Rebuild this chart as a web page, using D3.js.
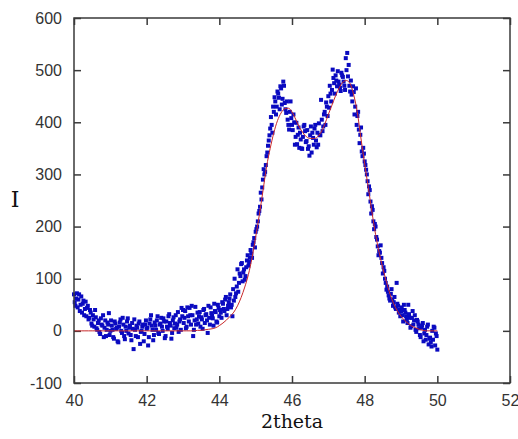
<!DOCTYPE html>
<html lang="en">
<head>
    <meta charset="UTF-8">
    <title>2theta scan with fit</title>
    <script src="https://d3js.org/d3.v7.min.js"></script>
    <style>
        body { margin: 0; background: #fff; }
        .tick-label { font-family: "Liberation Sans", Arial, sans-serif; font-size: 16px; fill: #333; }
        .axis-title { font-family: "DejaVu Serif", serif; fill: #111; }
    </style>
</head>
<body>
    <div id="chart"></div>

    <script>
        // measured points, first pass (2theta, intensity)
        const twoTheta = [
            40.00, 40.04, 40.08, 40.12, 40.16, 40.20, 40.24, 40.28, 40.32, 40.36, 40.40,
            40.44, 40.48, 40.52, 40.56, 40.60, 40.64, 40.68, 40.72, 40.76, 40.80, 40.84, 40.88, 40.92, 40.96, 41.00,
            41.04, 41.08, 41.12, 41.16, 41.20, 41.24, 41.28, 41.32, 41.36, 41.40, 41.44, 41.48, 41.52, 41.56, 41.60,
            41.64, 41.68, 41.72, 41.76, 41.80, 41.84, 41.88, 41.92, 41.96, 42.00,
            42.04, 42.08, 42.12, 42.16, 42.20, 42.24, 42.28, 42.32, 42.36, 42.40, 42.44, 42.48, 42.52, 42.56, 42.60,
            42.64, 42.68, 42.72, 42.76, 42.80, 42.84, 42.88, 42.92, 42.96, 43.00,
            43.04, 43.08, 43.12, 43.16, 43.20, 43.24, 43.28, 43.32, 43.36, 43.40, 43.44, 43.48, 43.52, 43.56, 43.60,
            43.64, 43.68, 43.72, 43.76, 43.80, 43.84, 43.88, 43.92, 43.96, 44.00,
            44.04, 44.08, 44.12, 44.16, 44.20, 44.24, 44.28, 44.32, 44.36, 44.40,
            44.44, 44.48, 44.52, 44.56, 44.60, 44.64, 44.68, 44.72, 44.76, 44.80, 44.84, 44.88, 44.92, 44.96, 45.00,
            45.04, 45.08, 45.12, 45.16, 45.20, 45.24, 45.28, 45.32, 45.36, 45.40, 45.44, 45.48, 45.52, 45.56, 45.60,
            45.64, 45.68, 45.72, 45.76, 45.80, 45.84, 45.88, 45.92, 45.96, 46.00,
            46.04, 46.08, 46.12, 46.16, 46.20, 46.24, 46.28, 46.32, 46.36, 46.40, 46.44, 46.48, 46.52, 46.56, 46.60,
            46.64, 46.68, 46.72, 46.76, 46.80, 46.84, 46.88, 46.92, 46.96, 47.00,
            47.04, 47.08, 47.12, 47.16, 47.20, 47.24, 47.28, 47.32, 47.36, 47.40, 47.44, 47.48, 47.52, 47.56, 47.60,
            47.64, 47.68, 47.72, 47.76, 47.80, 47.84, 47.88, 47.92, 47.96, 48.00,
            48.04, 48.08, 48.12, 48.16, 48.20, 48.24, 48.28, 48.32, 48.36, 48.40, 48.44, 48.48, 48.52, 48.56, 48.60,
            48.64, 48.68, 48.72, 48.76, 48.80, 48.84, 48.88, 48.92, 48.96, 49.00,
            49.04, 49.08, 49.12, 49.16, 49.20, 49.24, 49.28, 49.32, 49.36, 49.40, 49.44, 49.48, 49.52, 49.56, 49.60,
            49.64, 49.68, 49.72, 49.76, 49.80, 49.84, 49.88, 49.92, 49.96, 50.00
        ];
        const intensity = [
            70, 48, 72, 60, 38, 66, 52, 30, 56, 44, 22,
            40, 14, 30, 8, 26, 2, 20, -6, 12, 30, 6, -10, 16, 34, 0,
            10, -12, 18, 4, -20, 8, 22, -4, 12, -16, 0, 24, 6, -8, 15,
            -35, 2, 10, -12, 18, -2, 8, -20, 12, 4,
            -28, 14, 30, 2, -8, 10, 20, -4, 12, 25, 0, 18, -10, 8, 28,
            15, -15, 20, 5, 30, 12, -2, 22, 44, 40,
            25, 5, 45, 18, 30, 48, -10, 20, 12, 35, 28, 8, 22, 40, 15,
            32, -4, 25, 45, 30, 10, 38, 18, 50, 28,
            35, 55, 42, 60, 30, 48, 62, 45, 28, 58,
            65, 85, 75, 110, 128, 95, 118, 105, 135, 125, 140, 148, 165, 178, 190,
            200, 225, 238, 252, 290, 300, 318, 342, 365, 388, 395, 430, 448, 415, 459,
            447, 469, 434, 478, 437, 418, 405, 386, 440, 395,
            415, 357, 399, 376, 351, 367, 349, 392, 383, 364, 349, 336, 392, 380, 357,
            395, 352, 357, 376, 443, 383, 415, 395, 430, 450,
            470, 440, 501, 475, 490, 469, 478, 466, 495, 487, 470, 523, 533, 510, 459,
            453, 469, 415, 465, 412, 386, 376, 344, 351, 325,
            309, 287, 277, 248, 239, 210, 205, 180, 162, 153, 164, 130, 122, 100, 79,
            75, 62, 71, 60, 55, 45, 92, 48, 40, 38,
            30, 50, 35, 22, 50, 25, 9, 38, 20, 2, 21, 12, -8, 6, 15,
            -5, -17, 8, -26, -13, -30, -17, 6, -5, -36
        ];

        // measured points, in-between steps
        const twoThetaB = [
            40.02, 40.06, 40.10, 40.14, 40.18, 40.22, 40.26, 40.30, 40.34, 40.38,
            40.42, 40.46, 40.50, 40.54, 40.58, 40.62, 40.66, 40.70, 40.74, 40.78, 40.82, 40.86, 40.90, 40.94, 40.98,
            41.02, 41.06, 41.10, 41.14, 41.18, 41.22, 41.26, 41.30, 41.34, 41.38, 41.42, 41.46, 41.50, 41.54, 41.58,
            41.62, 41.66, 41.70, 41.74, 41.78, 41.82, 41.86, 41.90, 41.94, 41.98,
            42.02, 42.06, 42.10, 42.14, 42.18, 42.22, 42.26, 42.30, 42.34, 42.38, 42.42, 42.46, 42.50, 42.54, 42.58,
            42.62, 42.66, 42.70, 42.74, 42.78, 42.82, 42.86, 42.90, 42.94, 42.98,
            43.02, 43.06, 43.10, 43.14, 43.18, 43.22, 43.26, 43.30, 43.34, 43.38, 43.42, 43.46, 43.50, 43.54, 43.58,
            43.62, 43.66, 43.70, 43.74, 43.78, 43.82, 43.86, 43.90, 43.94, 43.98,
            44.02, 44.06, 44.10, 44.14, 44.18, 44.22, 44.26, 44.30, 44.34, 44.38,
            44.42, 44.46, 44.50, 44.54, 44.58, 44.62, 44.66, 44.70, 44.74, 44.78, 44.82, 44.86, 44.90, 44.94, 44.98,
            45.02, 45.06, 45.10, 45.14, 45.18, 45.22, 45.26, 45.30, 45.34, 45.38, 45.42, 45.46, 45.50, 45.54, 45.58,
            45.62, 45.66, 45.70, 45.74, 45.78, 45.82, 45.86, 45.90, 45.94, 45.98,
            46.02, 46.06, 46.10, 46.14, 46.18, 46.22, 46.26, 46.30, 46.34, 46.38, 46.42, 46.46, 46.50, 46.54, 46.58,
            46.62, 46.66, 46.70, 46.74, 46.78, 46.82, 46.86, 46.90, 46.94, 46.98,
            47.02, 47.06, 47.10, 47.14, 47.18, 47.22, 47.26, 47.30, 47.34, 47.38, 47.42, 47.46, 47.50, 47.54, 47.58,
            47.62, 47.66, 47.70, 47.74, 47.78, 47.82, 47.86, 47.90, 47.94, 47.98,
            48.02, 48.06, 48.10, 48.14, 48.18, 48.22, 48.26, 48.30, 48.34, 48.38, 48.42, 48.46, 48.50, 48.54, 48.58,
            48.62, 48.66, 48.70, 48.74, 48.78, 48.82, 48.86, 48.90, 48.94, 48.98,
            49.02, 49.06, 49.10, 49.14, 49.18, 49.22, 49.26, 49.30, 49.34, 49.38, 49.42, 49.46, 49.50, 49.54, 49.58,
            49.62, 49.66, 49.70, 49.74, 49.78, 49.82, 49.86, 49.90, 49.94, 49.98
        ];
        const intensityB = [
            55, 62, 45, 70, 50, 35, 58, 42, 28, 48,
            25, 35, 10, 22, 40, 5, 15, -2, 24, 10, -12, 20, 2, 12, -8,
            20, 2, -15, 14, 6, -22, 16, 0, 25, -10, 8, 18, -5, 10, -18,
            4, 22, -10, 6, 14, -25, 0, 12, -6, 20,
            6, -12, 22, 10, -18, 16, 2, 28, -6, 14, 8, 24, -14, 18, 4,
            32, 10, -4, 26, 14, 6, 36, 18, 2, 28,
            15, 38, 8, 28, 44, 12, 30, 2, 46, 22, 14, 36, 26, 4, 42,
            30, 20, 48, 12, 34, 24, 52, 36, 16, 44,
            40, 25, 52, 38, 65, 42, 55, 70, 50, 80,
            100, 72, 118, 92, 105, 130, 112, 98, 122, 145, 132, 155, 140, 170, 160,
            195, 210, 230, 265, 275, 310, 305, 335, 355, 375, 410, 380, 420, 440, 430,
            455, 425, 465, 445, 470, 425, 440, 395, 420, 408,
            385, 400, 372, 358, 390, 380, 350, 372, 395, 362, 385, 354, 375, 342, 370,
            388, 365, 380, 398, 375, 405, 392, 420, 438, 412,
            428, 455, 462, 485, 455, 480, 498, 472, 460, 490, 478, 462, 500, 488, 470,
            480, 440, 458, 430, 395, 420, 360, 390, 335, 340,
            318, 300, 262, 270, 225, 232, 195, 200, 175, 145, 150, 140, 110, 115, 92,
            85, 68, 58, 80, 48, 65, 42, 52, 35, 28,
            45, 18, 40, 28, 15, 32, 6, 25, 12, 30, -2, 18, 5, -12, 10,
            -20, 2, -8, 12, -15, -22, 0, 8, -28, -10
        ];

        // fitted curve
        const fitTheta = [
            40.0, 40.1, 40.2, 40.3, 40.4, 40.5, 40.6, 40.7, 40.8, 40.9,
            41.0, 41.1, 41.2, 41.3, 41.4, 41.5, 41.6, 41.7, 41.8, 41.9,
            42.0, 42.1, 42.2, 42.3, 42.4, 42.5, 42.6, 42.7, 42.8, 42.9,
            43.0, 43.1, 43.2, 43.3, 43.4, 43.5, 43.6, 43.7, 43.8, 43.9,
            44.0, 44.1, 44.2, 44.3, 44.4, 44.5, 44.6, 44.7, 44.8, 44.9,
            45.0, 45.1, 45.2, 45.3, 45.4, 45.5, 45.6, 45.7, 45.8, 45.9,
            46.0, 46.1, 46.2, 46.3, 46.4, 46.5, 46.6, 46.7, 46.8, 46.9,
            47.0, 47.1, 47.2, 47.3, 47.4, 47.5, 47.6, 47.7, 47.8, 47.9,
            48.0, 48.1, 48.2, 48.3, 48.4, 48.5, 48.6, 48.7, 48.8, 48.9,
            49.0, 49.1, 49.2, 49.3, 49.4, 49.5, 49.6, 49.7, 49.8, 49.9,
            50.0
        ];
        const fitI = [
            0, 0, 0, 0, 0, 0, 0, 0, 0, 0,
            0, 0, 0, 0, 0, 0, 0, 0, 0, 0,
            0, 0, 0, 0, 0, 0, 0, 0, 0, 0,
            0, 0, 0, 0, 1, 1, 2, 3, 4, 6,
            10, 15, 21, 28, 36, 48, 64, 84, 108, 140,
            180, 222, 268, 315, 350, 380, 403, 418, 426, 427,
            420, 406, 391, 380, 372, 369, 369, 372, 381, 396,
            415, 433, 451, 466, 477, 480, 474, 452, 418, 368,
            320, 275, 228, 185, 150, 120, 94, 70, 52, 38,
            28, 20, 14, 9, 6, 3, 1, 0, 0, 0,
            0
        ];

        const xTicks = [40, 42, 44, 46, 48, 50, 52];
        const yTicks = [-100, 0, 100, 200, 300, 400, 500, 600];

        const W = 518, H = 439;
        const margin = { top: 18, right: 8, bottom: 56, left: 74 };
        const width = W - margin.left - margin.right;
        const height = H - margin.top - margin.bottom;

        const svg = d3.select("#chart").append("svg")
            .attr("width", W)
            .attr("height", H);

        const g = svg.append("g")
            .attr("transform", "translate(" + margin.left + "," + margin.top + ")");

        const x = d3.scaleLinear().domain([40, 52]).range([0, width]);
        const y = d3.scaleLinear().domain([-100, 600]).range([height, 0]);

        const axisColor = "#3a3a3a";
        const tickLen = 7;
        const plain = d => String(d);   // keep an ascii hyphen for -100

        // inward ticks on every side, labels only bottom/left
        g.append("g")
            .attr("transform", "translate(0," + height + ")")
            .call(d3.axisBottom(x).tickValues(xTicks).tickFormat(plain).tickSizeInner(-tickLen).tickSizeOuter(0).tickPadding(12))
            .call(a => a.select(".domain").remove());
        g.append("g")
            .call(d3.axisTop(x).tickValues(xTicks).tickSizeInner(-tickLen).tickSizeOuter(0).tickFormat(""))
            .call(a => a.select(".domain").remove());
        g.append("g")
            .call(d3.axisLeft(y).tickValues(yTicks).tickFormat(plain).tickSizeInner(-tickLen).tickSizeOuter(0).tickPadding(12))
            .call(a => a.select(".domain").remove());
        g.append("g")
            .attr("transform", "translate(" + width + ",0)")
            .call(d3.axisRight(y).tickValues(yTicks).tickSizeInner(-tickLen).tickSizeOuter(0).tickFormat(""))
            .call(a => a.select(".domain").remove());

        g.selectAll(".tick line").attr("stroke", axisColor).attr("stroke-width", 1.5);
        g.selectAll(".tick text").attr("class", "tick-label").attr("font-family", null).attr("font-size", null);

        // points
        const pts = twoTheta.map((t, i) => ({ t: t, v: intensity[i] }))
            .concat(twoThetaB.map((t, i) => ({ t: t, v: intensityB[i] })));
        const s = 4;
        g.append("g").selectAll("rect")
            .data(pts)
            .enter()
            .append("rect")
            .attr("x", d => x(d.t) - s / 2)
            .attr("y", d => y(d.v) - s / 2)
            .attr("width", s)
            .attr("height", s)
            .attr("fill", "#0a0ac0");

        // fit line
        const fit = fitTheta.map((t, i) => ({ t: t, v: fitI[i] }));
        g.append("path")
            .datum(fit)
            .attr("fill", "none")
            .attr("stroke", "#c8282a")
            .attr("stroke-width", 1)
            .attr("d", d3.line().x(d => x(d.t)).y(d => y(d.v)).curve(d3.curveMonotoneX));

        // frame
        g.append("rect")
            .attr("width", width)
            .attr("height", height)
            .attr("fill", "none")
            .attr("stroke", axisColor)
            .attr("stroke-width", 1.5);

        // axis titles
        svg.append("text")
            .attr("class", "axis-title")
            .attr("x", margin.left + width / 2)
            .attr("y", 428)
            .attr("text-anchor", "middle")
            .attr("font-size", 19)
            .text("2theta");

        svg.append("text")
            .attr("class", "axis-title")
            .attr("x", 15)
            .attr("y", 207)
            .attr("text-anchor", "middle")
            .attr("font-size", 22)
            .text("I");
    </script>
</body>
</html>
